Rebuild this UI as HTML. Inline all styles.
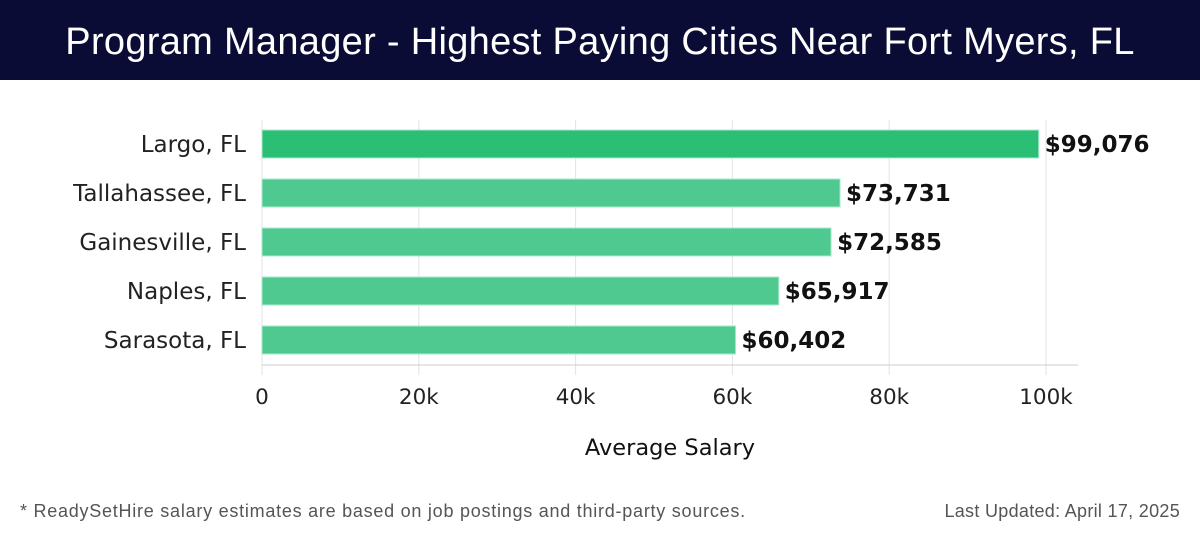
<!DOCTYPE html>
<html><head><meta charset="utf-8"><style>
body{margin:0;width:1200px;height:540px;background:#fff;font-family:"Liberation Sans","DejaVu Sans",sans-serif;overflow:hidden}
#hdr{position:absolute;left:0;top:0;width:1200px;height:80px;background:#0b0c36;color:#fff;font-size:38px;text-align:center;line-height:84px;letter-spacing:0.3px}
.foot{position:absolute;top:501px;font-size:18px;color:#555;letter-spacing:0.75px}
svg text{font-family:"DejaVu Sans",sans-serif}
</style></head><body>
<div id="hdr">Program Manager - Highest Paying Cities Near Fort Myers, FL</div>
<svg id="chart" width="1200" height="540" style="position:absolute;left:0;top:0"></svg>
<div class="foot" style="left:20px">* ReadySetHire salary estimates are based on job postings and third-party sources.</div>
<div class="foot" style="right:20px;letter-spacing:0.3px">Last Updated: April 17, 2025</div>
<script>
const cities=["Largo, FL","Tallahassee, FL","Gainesville, FL","Naples, FL","Sarasota, FL"];
const salaries=[99076,73731,72585,65917,60402];
const ticks=[0,20000,40000,60000,80000,100000];
const tickLabels=["0","20k","40k","60k","80k","100k"];
const svg=document.getElementById('chart');const NS="http://www.w3.org/2000/svg";
const x=v=>262+v*(1046-262)/100000;
const y=i=>130+i*49;
function mk(t,a,txt){const e=document.createElementNS(NS,t);for(const k in a)e.setAttribute(k,a[k]);if(txt!=null)e.textContent=txt;svg.appendChild(e);return e;}
ticks.forEach((t,i)=>{
 const g=mk('line',{x1:x(t),x2:x(t),y1:120,y2:375,stroke:'#e3e3e3','stroke-width':1});
 
 
 const l=mk('text',{x:x(t),y:404,'font-size':21.5,'text-anchor':'middle',fill:'#222'},tickLabels[i]);
 
 
});
const ax=mk('line',{x1:262,x2:1078,y1:365,y2:365,stroke:'#ccc','stroke-width':1});


cities.forEach((c,i)=>{
 const b=mk('rect',{x:x(0),y:y(i),width:x(salaries[i])-x(0),height:28,fill:i===0?'#2bbf75':'#4fc98f',stroke:'#a8ead0','stroke-width':1});
 
 
 const t=mk('text',{x:x(salaries[i])+6,y:y(i)+22,'font-size':23,'font-weight':'bold',fill:'#111'},'$'+salaries[i].toLocaleString('en-US'));
 
 
 const lb=mk('text',{x:246,y:y(i)+22,'font-size':23,'text-anchor':'end',fill:'#222'},c);
 
 
});
const xt=mk('text',{x:670,y:455,'font-size':22.5,'text-anchor':'middle',fill:'#111'},'Average Salary');


</script>
</body></html>
